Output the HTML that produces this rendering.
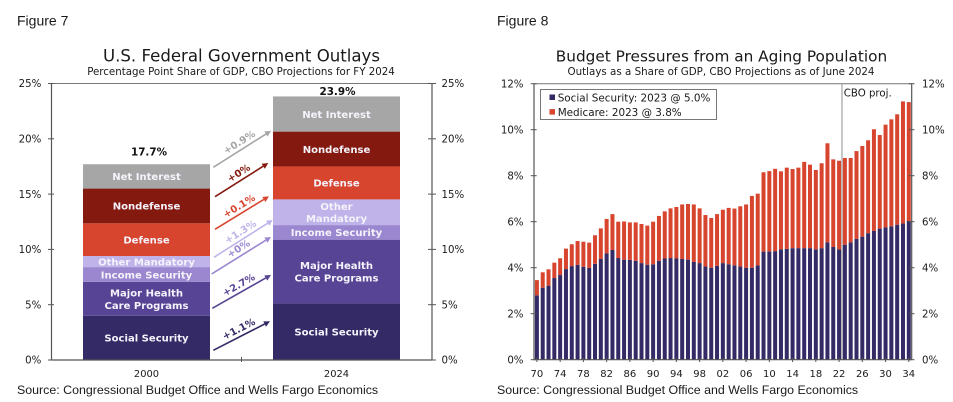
<!DOCTYPE html>
<html lang="en">
<head>
<meta charset="utf-8">
<title>Figures 7 and 8</title>
<style>
html,body{margin:0;padding:0;background:#fff;width:953px;height:402px;overflow:hidden}
svg{display:block}
text{font-family:"DejaVu Sans","Liberation Sans",sans-serif;fill:#1a1a1a}
.arial{font-family:"Liberation Sans",Arial,sans-serif}
</style>
</head>
<body>
<svg id="root" xmlns="http://www.w3.org/2000/svg" width="953" height="402" viewBox="0 0 953 402">
  <rect x="0" y="0" width="953" height="402" fill="#fff"/>
  <text class="arial" x="17" y="25.5" font-size="14">Figure 7</text>
  <text class="arial" x="497" y="25.5" font-size="14">Figure 8</text>
  <text x="241.5" y="61.5" font-size="16.6" text-anchor="middle">U.S. Federal Government Outlays</text>
  <text x="241" y="75" font-size="10.25" text-anchor="middle">Percentage Point Share of GDP, CBO Projections for FY 2024</text>
  <text x="721.5" y="61.5" font-size="15.3" text-anchor="middle">Budget Pressures from an Aging Population</text>
  <text x="721" y="75" font-size="10.3" text-anchor="middle">Outlays as a Share of GDP, CBO Projections as of June 2024</text>
  <g id="chart7"></g>
  <g id="chart8"></g>
  <text class="arial" x="17" y="394" font-size="12.4">Source: Congressional Budget Office and Wells Fargo Economics</text>
  <text class="arial" x="497" y="394" font-size="12.4">Source: Congressional Budget Office and Wells Fargo Economics</text>
</svg>
<script>
// ---------- Figure 7 data ----------
const outlayCategories = ['2000', '2024'];
const outlayComponents = ['Social Security', 'Major Health Care Programs', 'Income Security', 'Other Mandatory', 'Defense', 'Nondefense', 'Net Interest'];
const outlays2000 = [4.0, 3.07, 1.33, 1.0, 2.96, 3.14, 2.2];
const outlays2024 = [5.12, 5.76, 1.32, 2.32, 2.98, 3.15, 3.18];
const outlayTotals = ['17.7%', '23.9%'];
const segmentLabels2000 = [['Social Security'], ['Major Health', 'Care Programs'], ['Income Security'], ['Other Mandatory'], ['Defense'], ['Nondefense'], ['Net Interest']];
const segmentLabels2024 = [['Social Security'], ['Major Health', 'Care Programs'], ['Income Security'], ['Other', 'Mandatory'], ['Defense'], ['Nondefense'], ['Net Interest']];
const changeLabels = ['+1.1%', '+2.7%', '+0%', '+1.3%', '+0.1%', '+0%', '+0.9%'];
const outlayTicks = [0, 5, 10, 15, 20, 25];

// ---------- Figure 8 data ----------
const years = ['70','71','72','73','74','75','76','77','78','79','80','81','82','83','84','85','86','87','88','89','90','91','92','93','94','95','96','97','98','99','00','01','02','03','04','05','06','07','08','09','10','11','12','13','14','15','16','17','18','19','20','21','22','23','24','25','26','27','28','29','30','31','32','33','34'];
const socialSecurity = [2.8,3.13,3.22,3.55,3.68,3.94,4.07,4.12,4.04,3.99,4.17,4.38,4.62,4.77,4.42,4.35,4.34,4.3,4.2,4.13,4.15,4.3,4.4,4.42,4.4,4.38,4.35,4.25,4.2,4.05,4.0,4.08,4.2,4.15,4.1,4.05,4.0,4.0,4.1,4.7,4.7,4.72,4.8,4.82,4.85,4.85,4.85,4.85,4.8,4.85,5.1,4.9,4.8,5.0,5.1,5.25,5.35,5.5,5.6,5.7,5.75,5.8,5.87,5.92,6.03];
const totalOutlays = [3.46,3.8,3.93,4.22,4.41,4.83,5.02,5.16,5.13,5.09,5.41,5.71,6.12,6.33,6.0,6.01,5.97,5.97,5.9,5.83,6.0,6.25,6.45,6.58,6.64,6.75,6.77,6.75,6.58,6.29,6.16,6.33,6.52,6.6,6.57,6.67,6.75,7.12,7.22,8.15,8.2,8.3,8.19,8.35,8.29,8.35,8.6,8.48,8.25,8.54,9.41,8.71,8.65,8.77,8.77,9.07,9.29,9.54,10.02,9.77,10.22,10.45,10.67,11.23,11.2];
const medicare = totalOutlays.map(function (t, i) { return t - socialSecurity[i]; });
const shareTicks = [0, 2, 4, 6, 8, 10, 12];
const yearTickEvery = 4;
const legendEntries = ['Social Security: 2023 @ 5.0%', 'Medicare: 2023 @ 3.8%'];
const projectionStartIndex = 53;

const NS = 'http://www.w3.org/2000/svg';
function mk(parent, tag, attrs, txt) {
  const el = document.createElementNS(NS, tag);
  for (const k in attrs) el.setAttribute(k, attrs[k]);
  if (txt !== undefined) el.textContent = txt;
  parent.appendChild(el);
  return el;
}
function slug(s) { return s.toLowerCase().replace(/[^a-z0-9]+/g, '-'); }

// ---------- Figure 7 ----------
(function () {
  const g = document.getElementById('chart7');
  const L = 51.5, R = 432, T = 83.5, B = 360;
  const y = function (v) { return B - (v / 25) * (B - T); };
  const barX = [83, 273], barW = 127;
  const colors = ['#332a66', '#584494', '#9b87cf', '#bfb3ea', '#d7452f', '#841a0f', '#a6a6a6'];
  const axisColor = '#555';

  let el = mk(g, 'line', { x1: L, x2: R, y1: T, y2: T, stroke: '#777', 'stroke-width': 1 });
  
  

  [outlays2000, outlays2024].forEach(function (series, c) {
    const labels = c === 0 ? segmentLabels2000 : segmentLabels2024;
    let base = 0;
    series.forEach(function (v, i) {
      const top = base + v;
      const r = mk(g, 'rect', { x: barX[c], y: y(top), width: barW, height: y(base) - y(top), fill: colors[i] });
      
      
      const mid = y(base + v / 2);
      labels[i].forEach(function (line, k) {
        const ty = mid + (k - (labels[i].length - 1) / 2) * 12.4 + 3.8;
        const t = mk(g, 'text', { x: barX[c] + barW / 2, y: ty, 'text-anchor': 'middle', 'font-size': 10.05, 'font-weight': 'bold', style: 'fill:#f4f2fa' }, line);
        
        
      });
      base = top;
    });
    const sum = series.reduce(function (a, b) { return a + b; }, 0);
    const lift = [8.5, 1.5][c];
    const tot = mk(g, 'text', { x: barX[c] + barW / 2 + (c === 0 ? 2.5 : 1), y: y(sum) - lift, 'text-anchor': 'middle', 'font-size': 10.4, 'font-weight': 'bold', style: 'fill:#111' }, outlayTotals[c]);
    
    
    const cat = mk(g, 'text', { x: barX[c] + barW / 2, y: 377, 'text-anchor': 'middle', 'font-size': 9.9 }, outlayCategories[c]);
    
    
  });

  // change arrows between the two stacks
  const startShift = [12.4, 9.5, -0.5, -4.3, -10.4, -9.2, -9.1];
  const endShift = [-10.4, 3.5, 4.6, 7.8, 13.4, 14, 16.8];
  const startX = [213.3, 212.3, 211.7, 214, 215, 215, 213.3];
  const endX = [270, 271, 271, 272.7, 269, 268.3, 271];
  function mids(series) {
    let b = 0;
    return series.map(function (v) { const m = b + v / 2; b += v; return y(m); });
  }
  const m0 = mids(outlays2000), m1 = mids(outlays2024);
  changeLabels.forEach(function (lab, i) {
    const x1 = startX[i], y1 = m0[i] + startShift[i], x2 = endX[i], y2 = m1[i] + endShift[i];
    const a = Math.atan2(y2 - y1, x2 - x1), deg = a * 180 / Math.PI;
    const hx = x2 - 6 * Math.cos(a), hy = y2 - 6 * Math.sin(a);
    const ln = mk(g, 'line', { x1: x1, y1: y1, x2: hx, y2: hy, stroke: colors[i], 'stroke-width': 1.6 });
    
    
    const px = Math.sin(a) * 3, py = Math.cos(a) * 3;
    const head = mk(g, 'polygon', { points: x2 + ',' + y2 + ' ' + (hx + px) + ',' + (hy - py) + ' ' + (hx - px) + ',' + (hy + py), fill: colors[i] });
    
    
    const cx = (x1 + x2) / 2 - 3, cy = (y1 + y2) / 2 - 7;
    const t = mk(g, 'text', { x: cx, y: cy + 3.6, 'text-anchor': 'middle', 'font-size': 9.8, 'font-weight': 'bold', transform: 'rotate(' + deg + ' ' + cx + ' ' + cy + ')', style: 'fill:' + colors[i] }, lab);
    
    
  });

  // axes
  el = mk(g, 'line', { x1: L, x2: L, y1: T, y2: B, stroke: axisColor, 'stroke-width': 1.2 });
  
  
  el = mk(g, 'line', { x1: R, x2: R, y1: T, y2: B, stroke: axisColor, 'stroke-width': 1.2 });
  
  
  el = mk(g, 'line', { x1: L, x2: R, y1: B, y2: B, stroke: axisColor, 'stroke-width': 1.2 });
  
  
  el = mk(g, 'line', { x1: 241.5, x2: 241.5, y1: 357, y2: 362, stroke: axisColor, 'stroke-width': 1 });
  
  

  outlayTicks.forEach(function (v) {
    const yy = y(v);
    let e = mk(g, 'line', { x1: 48, x2: 54, y1: yy, y2: yy, stroke: axisColor, 'stroke-width': 1 });
    
    
    e = mk(g, 'line', { x1: 428, x2: 436, y1: yy, y2: yy, stroke: axisColor, 'stroke-width': 1 });
    
    
    e = mk(g, 'text', { x: 41.3, y: yy + 3.7, 'text-anchor': 'end', 'font-size': 10.2 }, v + '%');
    
    
    e = mk(g, 'text', { x: 441.5, y: yy + 3.7, 'font-size': 10.2 }, v + '%');
    
    
  });
})();

// ---------- Figure 8 ----------
(function () {
  const g = document.getElementById('chart8');
  const L = 534, R = 911.7, T = 83.7, B = 359.7;
  const y = function (v) { return B - (v / 12) * (B - T); };
  const step = (R - L) / years.length;
  const cx = function (i) { return L + step * (i + 0.5); };
  const barW = 4;
  const navy = '#332a66', red = '#d7452f', axisColor = '#555';

  let el = mk(g, 'line', { x1: L, x2: R, y1: T, y2: T, stroke: '#777', 'stroke-width': 1 });
  
  

  years.forEach(function (yr, i) {
    const ssTop = y(socialSecurity[i]), mTop = y(socialSecurity[i] + medicare[i]);
    const a = mk(g, 'rect', { x: cx(i) - barW / 2, y: ssTop, width: barW, height: B - ssTop, fill: navy });
    
    
    const b = mk(g, 'rect', { x: cx(i) - barW / 2, y: mTop, width: barW, height: ssTop - mTop, fill: red });
    
    
  });

  const px = L + step * projectionStartIndex;
  el = mk(g, 'line', { x1: px, x2: px, y1: T, y2: B, stroke: '#999', 'stroke-width': 1.1 });
  
  
  el = mk(g, 'text', { x: px + 1.8, y: 96.5, 'font-size': 10.2 }, 'CBO proj.');
  
  

  el = mk(g, 'rect', { x: 540.5, y: 89.5, width: 176, height: 30, fill: '#fff', stroke: '#777', 'stroke-width': 1 });
  
  
  legendEntries.forEach(function (lab, i) {
    const yy = 94.5 + i * 14.6;
    const s = mk(g, 'rect', { x: 549.5, y: yy, width: 5.5, height: 5.5, fill: i === 0 ? navy : red });
    
    
    const t = mk(g, 'text', { x: 557.7, y: yy + 6.8, 'font-size': 10.4 }, lab);
    
    
  });

  el = mk(g, 'line', { x1: L, x2: L, y1: T, y2: B, stroke: axisColor, 'stroke-width': 1.2 });
  
  
  el = mk(g, 'line', { x1: R, x2: R, y1: T, y2: B, stroke: axisColor, 'stroke-width': 1.2 });
  
  
  el = mk(g, 'line', { x1: L, x2: R, y1: B, y2: B, stroke: axisColor, 'stroke-width': 1.2 });
  
  

  shareTicks.forEach(function (v) {
    const yy = y(v);
    let e = mk(g, 'line', { x1: 530.7, x2: 536.7, y1: yy, y2: yy, stroke: axisColor, 'stroke-width': 1 });
    
    
    e = mk(g, 'line', { x1: 908.7, x2: 914.5, y1: yy, y2: yy, stroke: axisColor, 'stroke-width': 1 });
    
    
    e = mk(g, 'text', { x: 523.5, y: yy + 3.7, 'text-anchor': 'end', 'font-size': 10.2 }, v + '%');
    
    
    e = mk(g, 'text', { x: 922, y: yy + 3.7, 'font-size': 10.2 }, v + '%');
    
    
  });

  years.forEach(function (yr, i) {
    if (i % yearTickEvery !== 0) return;
    let e = mk(g, 'line', { x1: cx(i), x2: cx(i), y1: 357.5, y2: 362, stroke: axisColor, 'stroke-width': 1 });
    
    
    e = mk(g, 'text', { x: cx(i), y: 377, 'text-anchor': 'middle', 'font-size': 10 }, yr);
    
    
  });
})();
</script>
</body>
</html>
